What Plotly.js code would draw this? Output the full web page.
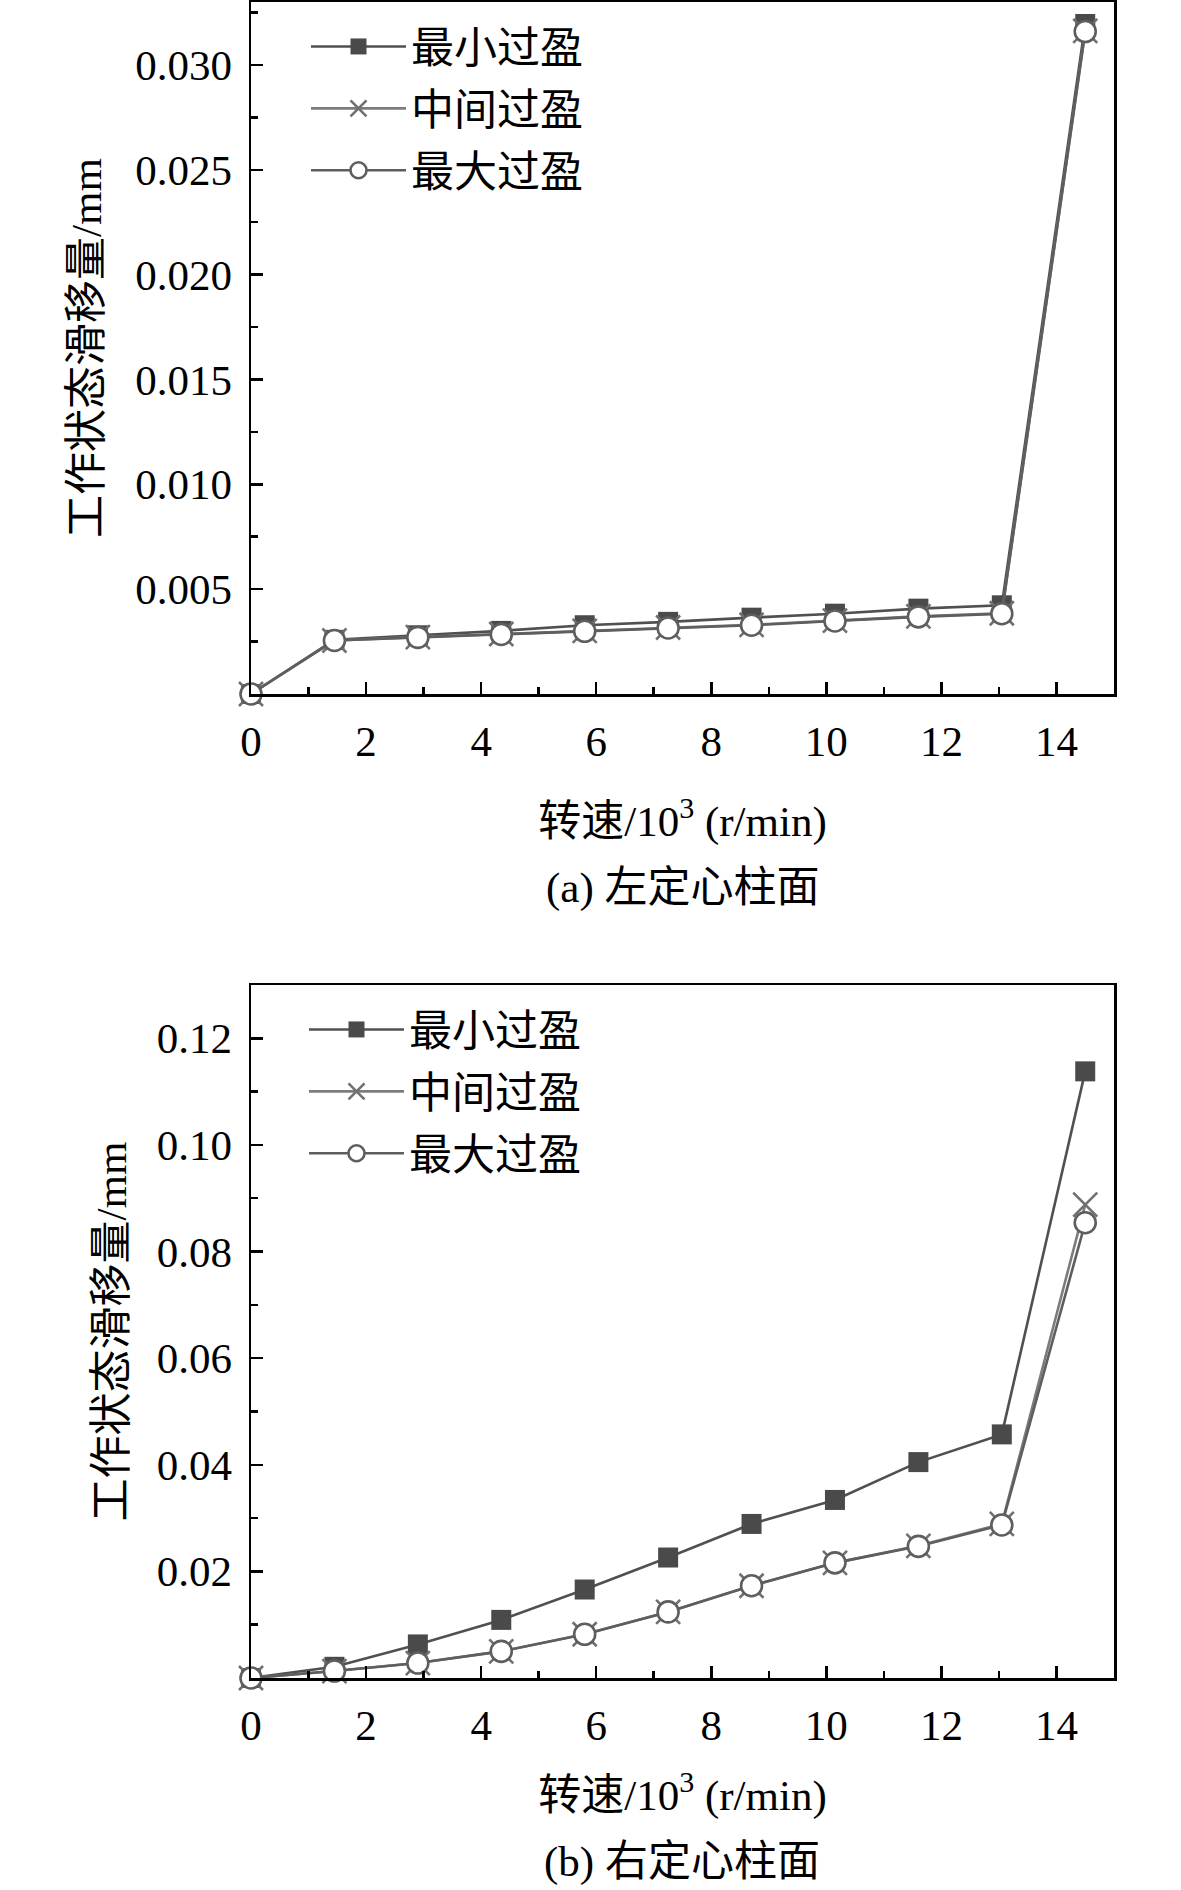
<!DOCTYPE html>
<html>
<head>
<meta charset="utf-8">
<script src="https://cdn.plot.ly/plotly-3.0.1.min.js"></script>
<style>
  html, body { margin: 0; padding: 0; background: #fff; }
  #chart { width: 1181px; height: 1890px; }
</style>
</head>
<body>
<div id="chart"></div>
<script>
// rotational speed, 10^3 r/min
const speed = [0, 1.45, 2.9, 4.35, 5.8, 7.25, 8.7, 10.15, 11.6, 13.05, 14.5];
const seriesNames = ['最小过盈', '中间过盈', '最大过盈'];

// (a) left spigot face, slip in mm
const leftMin = [0, 0.00258, 0.00280, 0.00301, 0.00328, 0.00344, 0.00364, 0.00383, 0.00407, 0.00423, 0.03195];
const leftMid = [0, 0.00255, 0.00271, 0.00286, 0.00301, 0.00317, 0.00330, 0.00350, 0.00370, 0.00385, 0.03162];
const leftMax = [0, 0.00255, 0.00270, 0.00284, 0.00299, 0.00315, 0.00328, 0.00348, 0.00368, 0.00383, 0.03159];

// (b) right spigot face, slip in mm
const rightMin = [0, 0.0021, 0.0063, 0.0109, 0.0166, 0.0226, 0.0289, 0.0334, 0.0405, 0.0457, 0.1138];
const rightMid = [0, 0.0013, 0.0028, 0.0050, 0.0082, 0.0124, 0.0173, 0.0216, 0.0248, 0.0289, 0.0888];
const rightMax = [0, 0.0013, 0.0028, 0.0050, 0.0082, 0.0124, 0.0173, 0.0216, 0.0247, 0.0287, 0.0854];

const xTickVals = [0, 2, 4, 6, 8, 10, 12, 14];
const leftTickVals = [0.005, 0.010, 0.015, 0.020, 0.025, 0.030];
const leftTickText = ['0.005', '0.010', '0.015', '0.020', '0.025', '0.030'];
const rightTickVals = [0.02, 0.04, 0.06, 0.08, 0.10, 0.12];
const rightTickText = ['0.02', '0.04', '0.06', '0.08', '0.10', '0.12'];

const xTitle = '转速/10<sup>3</sup> (r/min)';
const yTitle = '工作状态滑移量/mm';
const captions = ['(a) 左定心柱面', '(b) 右定心柱面'];

const FONT = '"Liberation Serif", "Times New Roman", "Noto Sans CJK SC", serif';
const FS = 43;

// one style per series: min = filled square, mid = x, max = open circle
const styles = [
  { line: { color: '#505050', width: 2.6 },
    marker: { symbol: 'square', size: 20, color: '#4a4a4a', line: { width: 0 } } },
  { line: { color: '#7c7c7c', width: 2.6 },
    marker: { symbol: 'x-thin-open', size: 24, color: '#707070', line: { color: '#707070', width: 2.6 } } },
  { line: { color: '#5e5e5e', width: 2.6 },
    marker: { symbol: 'circle', size: 21, color: '#ffffff', line: { color: '#5e5e5e', width: 2.6 } } }
];

function makeTraces(ys, xaxis, yaxis, legend) {
  return ys.map((y, i) => ({
    type: 'scatter', mode: 'lines+markers',
    x: speed, y: y,
    name: seriesNames[i],
    legendgroup: legend + '_' + i,
    xaxis: xaxis, yaxis: yaxis, legend: legend,
    line: styles[i].line,
    marker: styles[i].marker,
    cliponaxis: false
  }));
}

const traces = [
  ...makeTraces([leftMin, leftMid, leftMax], 'x', 'y', 'legend'),
  ...makeTraces([rightMin, rightMid, rightMax], 'x2', 'y2', 'legend2')
];

const W = 1181, H = 1890;
const px = v => v / W;
const py = v => 1 - v / H;

function xAxis(anchor, titleStandoff) {
  return {
    anchor: anchor, domain: [px(251), px(1114)],
    range: [0, 15], tickmode: 'array', tickvals: xTickVals,
    ticks: 'inside', ticklen: 12, tickwidth: 2.5, tickcolor: '#000',
    minor: { tickmode: 'linear', tick0: 0, dtick: 1, ticks: 'inside', ticklen: 7, tickwidth: 2.5, tickcolor: '#000' },
    showline: true, mirror: true, linecolor: '#000', linewidth: 2.5,
    showgrid: false, zeroline: false, automargin: false,
    ticklabelstandoff: 8,
    tickfont: { family: FONT, size: FS, color: '#000' },
    title: { text: xTitle, standoff: titleStandoff, font: { family: FONT, size: FS, color: '#000' } }
  };
}

function yAxis(anchor, top, bottom, range, vals, text, minorStep, titleStandoff) {
  return {
    anchor: anchor, domain: [py(bottom), py(top)],
    range: range, tickmode: 'array', tickvals: vals, ticktext: text,
    ticks: 'inside', ticklen: 12, tickwidth: 2.5, tickcolor: '#000',
    minor: { tickmode: 'linear', tick0: 0, dtick: minorStep, ticks: 'inside', ticklen: 7, tickwidth: 2.5, tickcolor: '#000' },
    showline: true, mirror: true, linecolor: '#000', linewidth: 2.5,
    showgrid: false, zeroline: false, automargin: false,
    ticklabelstandoff: 8,
    tickfont: { family: FONT, size: FS, color: '#000' },
    title: { text: yTitle, standoff: titleStandoff, font: { family: FONT, size: FS, color: '#000' } }
  };
}

function legendAt(left, top) {
  return {
    x: px(left), y: py(top), xanchor: 'left', yanchor: 'top',
    bgcolor: 'rgba(0,0,0,0)', borderwidth: 0,
    itemwidth: 95, tracegroupgap: 3,
    font: { family: FONT, size: FS, color: '#000' }
  };
}

const layout = {
  width: W, height: H,
  margin: { l: 0, r: 0, t: 0, b: 0 },
  paper_bgcolor: '#fff', plot_bgcolor: '#fff',
  font: { family: FONT, size: FS, color: '#000' },
  showlegend: true,
  xaxis: xAxis('y', 42),
  yaxis: yAxis('x', 2, 694, [0, 0.033], leftTickVals, leftTickText, 0.0025, 20),
  xaxis2: xAxis('y2', 32),
  yaxis2: yAxis('x2', 985, 1678, [0, 0.13], rightTickVals, rightTickText, 0.01, 17),
  legend: legendAt(306, 12),
  legend2: legendAt(304, 995),
  annotations: captions.map((t, i) => ({
    text: t, xref: 'paper', yref: 'paper',
    x: px(682), y: py(i === 0 ? 888 : 1862),
    xanchor: 'center', yanchor: 'middle', showarrow: false,
    font: { family: FONT, size: FS, color: '#000' }
  }))
};

Plotly.newPlot('chart', traces, layout, { displayModeBar: false, staticPlot: true });
</script>
</body>
</html>
